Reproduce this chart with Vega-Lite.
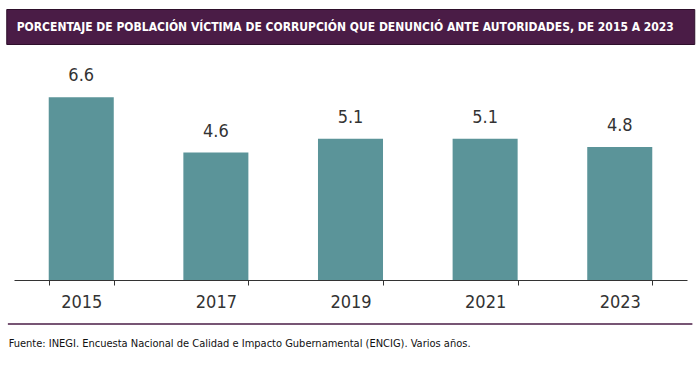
{
  "$schema": "https://vega.github.io/schema/vega-lite/v6.json",
  "background": "white",
  "padding": {"left": 5, "top": 8, "right": 5, "bottom": 5},
  "spacing": 6,
  "center": true,
  "config": {"view": {"stroke": null}, "font": "DejaVu Sans Condensed"},
  "vconcat": [
    {
      "width": 688,
      "height": 35,
      "view": {"fill": "#4a1c46", "stroke": "#2e0f2b", "strokeWidth": 1},
      "data": {"values": [{"titulo": "PORCENTAJE DE POBLACIÓN VÍCTIMA DE CORRUPCIÓN QUE DENUNCIÓ ANTE AUTORIDADES, DE 2015 A 2023"}]},
      "mark": {"type": "text", "color": "white", "fontWeight": "bold", "fontSize": 12, "dx": -5, "font": "DejaVu Sans Condensed"},
      "encoding": {"text": {"field": "titulo"}}
    },
    {
      "width": 673,
      "height": 229,
      "data": {"values": [
        {"anio": "2015", "valor": 6.6},
        {"anio": "2017", "valor": 4.6},
        {"anio": "2019", "valor": 5.1},
        {"anio": "2021", "valor": 5.1},
        {"anio": "2023", "valor": 4.8}
      ]},
      "encoding": {
        "x": {"field": "anio", "type": "nominal", "title": null,
          "scale": {"paddingInner": 0.517, "paddingOuter": 0.258},
          "axis": {"labelAngle": 0, "labelFontSize": 18, "labelColor": "#333333", "labelFont": "DejaVu Sans Condensed",
            "tickBand": "extent", "tickSize": 5, "tickColor": "#333333", "domainColor": "#333333", "labelPadding": 8}},
        "y": {"field": "valor", "type": "quantitative", "scale": {"domain": [0, 8.27]}, "axis": null}
      },
      "layer": [
        {"mark": {"type": "bar", "color": "#5b9499"}},
        {"mark": {"type": "text", "baseline": "bottom", "dy": -12, "fontSize": 18, "color": "#333333"},
          "encoding": {"text": {"field": "valor", "type": "quantitative", "format": ".1f"}}}
      ]
    },
    {
      "width": 683,
      "height": 0.01,
      "view": {"stroke": "#4a1c46", "strokeWidth": 1.5},
      "title": {"text": "Fuente: INEGI. Encuesta Nacional de Calidad e Impacto Gubernamental (ENCIG). Varios años.",
        "orient": "bottom", "anchor": "start", "fontSize": 11, "fontWeight": "normal", "color": "#111111", "offset": 9, "font": "DejaVu Sans Condensed"},
      "data": {"values": [{"a": 1}]},
      "mark": {"type": "text", "opacity": 0},
      "encoding": {"text": {"field": "a"}}
    }
  ]
}
